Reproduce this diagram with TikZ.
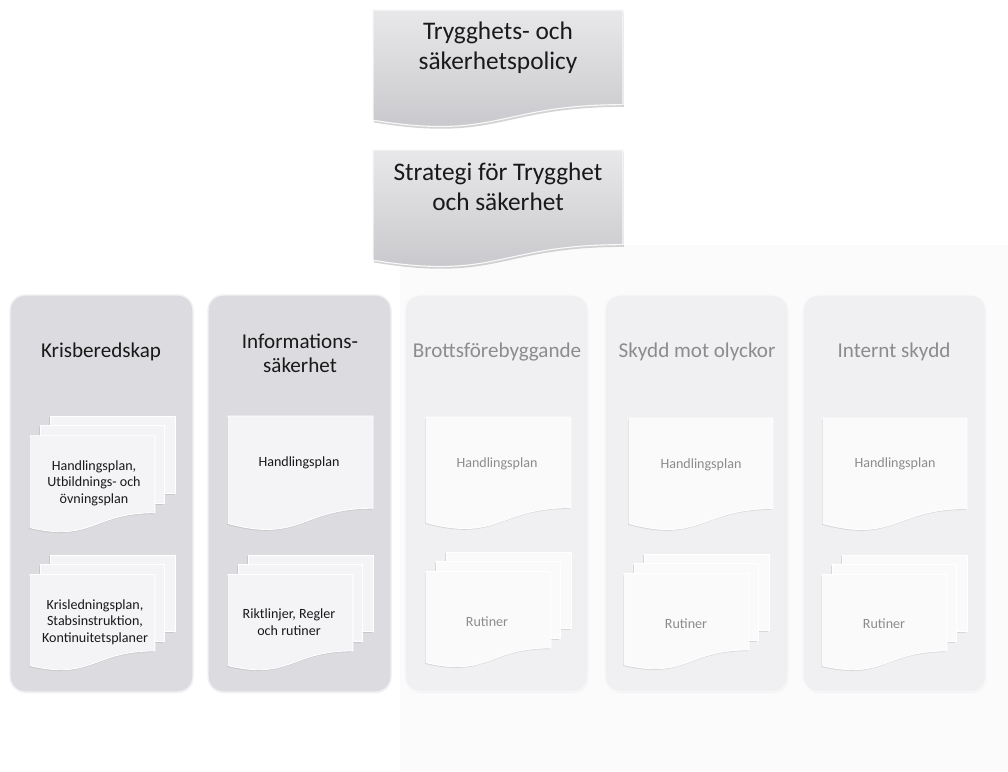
\documentclass[tikz,border=0pt]{standalone}
\usepackage{fontspec}
\setmainfont{Carlito}
\usetikzlibrary{shadows}

\definecolor{boxtop}{HTML}{E8E8EA}
\definecolor{boxbottom}{HTML}{C6C6CA}
\definecolor{colgray}{HTML}{DCDCE0}
\definecolor{colfaded}{HTML}{F0F0F2}
\definecolor{docwhite}{HTML}{F4F4F6}
\definecolor{docfaded}{HTML}{FAFAFB}
\definecolor{textfaded}{HTML}{8C8C8C}

% one page with a wavy lower edge: [style] x, y, width, height
\newcommand{\singledoc}[5][]{%
  \path[#1] (#2,#3) -- (#2+#4,#3) -- (#2+#4,#3+0.802*#5)
    .. controls (#2+0.5*#4,#3+0.802*#5) and (#2+0.5*#4,#3+1.107*#5) .. (#2,#3+0.934*#5) -- cycle;}

% three stacked pages: [style] x, y, width, height
\newcommand{\multidoc}[5][]{%
  \path[#1] (#2+0.138*#4,#3) rectangle (#2+#4,#3+0.666*#5);
  \path[#1] (#2+0.071*#4,#3+0.084*#5) rectangle (#2+0.926*#4,#3+0.752*#5);
  \path[#1] (#2,#3+0.170*#5) -- (#2+0.861*#4,#3+0.170*#5) -- (#2+0.861*#4,#3+0.834*#5)
    .. controls (#2+0.43*#4,#3+0.834*#5) and (#2+0.43*#4,#3+1.09*#5) .. (#2,#3+0.962*#5) -- cycle;}

\tikzset{
  topbox/.style={top color=boxtop, bottom color=boxbottom, draw=white!70!boxtop, line width=0.8pt,
    drop shadow={shadow xshift=0.6pt, shadow yshift=-1.6pt, opacity=0.35}},
  colbox/.style={fill=#1, draw=white!60!#1, line width=1pt, rounded corners=0.38cm,
    drop shadow={shadow xshift=0.3pt, shadow yshift=-0.8pt, opacity=0.12}},
  page/.style={fill=#1, draw=white, line width=0.6pt,
    drop shadow={shadow xshift=-0.6pt, shadow yshift=-0.9pt, opacity=0.22}},
  toptext/.style={align=center, font=\fontsize{18}{21.5}\selectfont, text=black!90},
  coltitle/.style={align=center, font=\fontsize{15}{17}\selectfont, text=#1},
  coltitle/.default=black!90,
  doctext/.style={align=center, font=\fontsize{10}{11.7}\selectfont, text=#1},
  doctext/.default=black!90
}

\begin{document}
\begin{tikzpicture}[x=0.025cm, y=-0.025cm]
  \useasboundingbox (0,0) rectangle (1008,771);
  \fill[black!1.5] (400,245) rectangle (1008,771);

  % top of the hierarchy
  \singledoc[topbox]{373}{10}{250}{118}
  \singledoc[topbox]{373}{150}{250}{118}
  \node[toptext] (policy) at (498,48) {Trygghets- och\\säkerhetspolicy};
  \node[toptext] (strategi) at (498,187) {Strategi för Trygghet\\och säkerhet};

  % columns
  \draw[colbox=colgray] (10,295) rectangle (193,692);
  \draw[colbox=colgray] (208,295) rectangle (391,692);
  \draw[colbox=colfaded] (405,295) rectangle (588,692);
  \draw[colbox=colfaded] (605,295) rectangle (788,692);
  \draw[colbox=colfaded] (803,295) rectangle (986,692);

  \node[coltitle] (kris) at (101,352) {Krisberedskap};
  \node[coltitle] (info) at (300,353) {Informations-\\säkerhet};
  \node[coltitle=textfaded] (brott) at (497,352) {Brottsförebyggande};
  \node[coltitle=textfaded] (olyckor) at (697,352) {Skydd mot olyckor};
  \node[coltitle=textfaded] (internt) at (894,352) {Internt skydd};

  % documents
  \multidoc[page=docwhite]{30}{416}{145}{116}
  \multidoc[page=docwhite]{30}{555}{145}{115}
  \singledoc[page=docwhite]{228}{416}{145}{115}
  \multidoc[page=docwhite]{228}{555}{145}{115}
  \singledoc[page=docfaded]{426}{417}{145}{113}
  \multidoc[page=docfaded]{426}{552}{145}{115}
  \singledoc[page=docfaded]{629}{418}{144}{113}
  \multidoc[page=docfaded]{624}{554}{145}{115}
  \singledoc[page=docfaded]{823}{418}{144}{113}
  \multidoc[page=docfaded]{822}{555}{145}{115}

  \node[doctext] (krisplan) at (94,483) {Handlingsplan,\\Utbildnings- och\\övningsplan};
  \node[doctext] (krisledning) at (95,622) {Krisledningsplan,\\Stabsinstruktion,\\Kontinuitetsplaner};
  \node[doctext] (infoplan) at (299,463) {Handlingsplan};
  \node[doctext] (inforegler) at (289,622) {Riktlinjer, Regler\\och rutiner};
  \node[doctext=textfaded] (brottplan) at (497,464) {Handlingsplan};
  \node[doctext=textfaded] (brottrutin) at (487,622) {Rutiner};
  \node[doctext=textfaded] (olyckorplan) at (701,465) {Handlingsplan};
  \node[doctext=textfaded] (olyckorrutin) at (686,624) {Rutiner};
  \node[doctext=textfaded] (interntplan) at (895,464) {Handlingsplan};
  \node[doctext=textfaded] (interntrutin) at (884,624) {Rutiner};
\end{tikzpicture}
\end{document}
